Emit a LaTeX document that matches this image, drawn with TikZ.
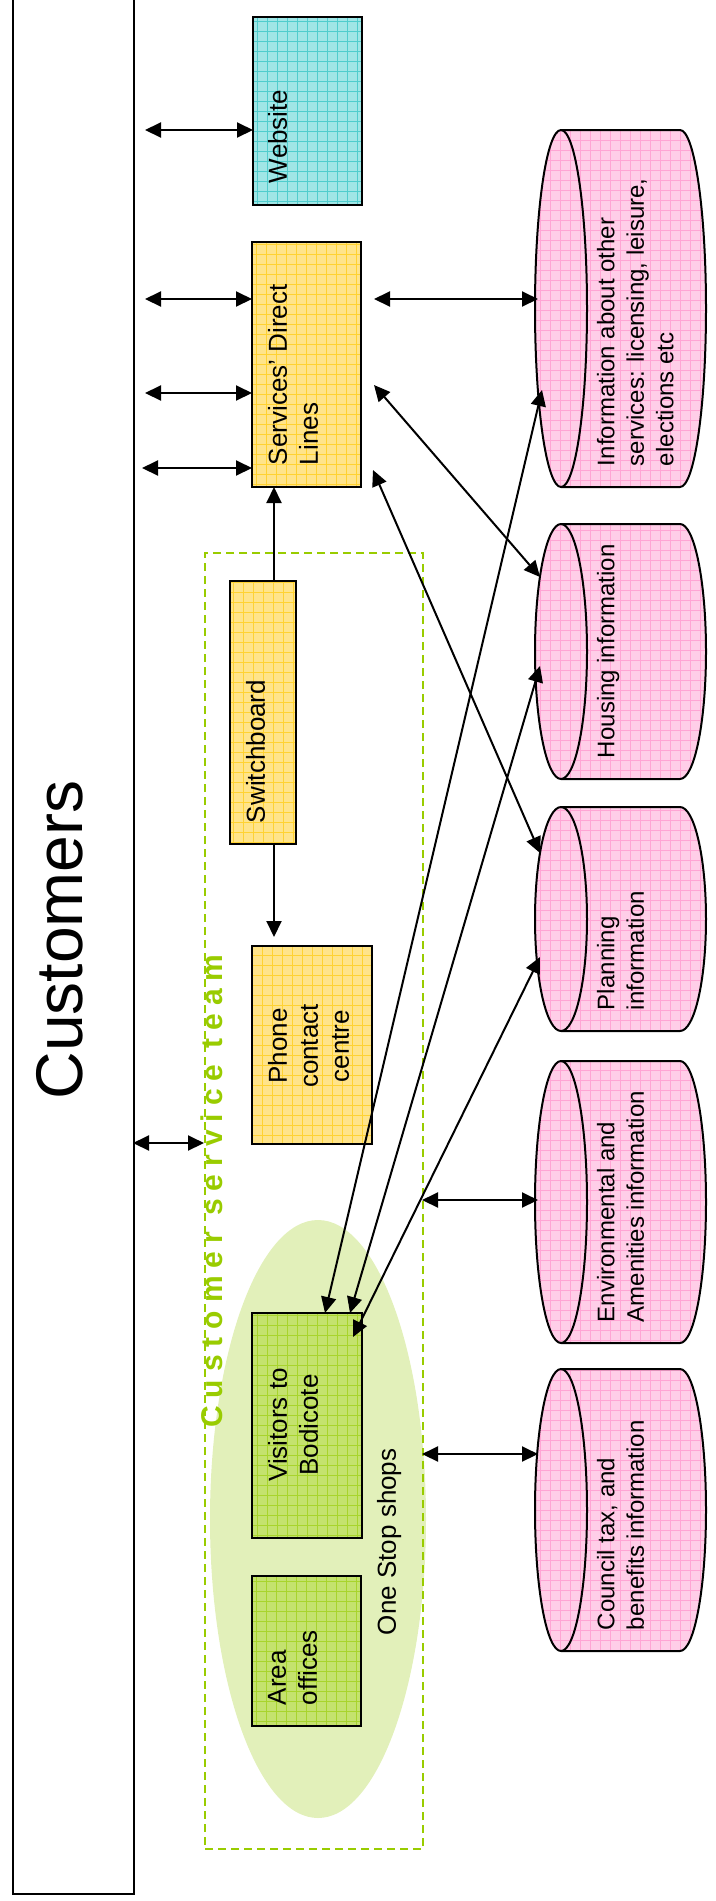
\documentclass[tikz,border=0pt]{standalone}
\usepackage{fontspec}
\setmainfont{Liberation Sans}
\usetikzlibrary{arrows.meta,shapes.geometric}

\definecolor{webfill}{RGB}{160,230,230}
\definecolor{webgrid}{RGB}{80,205,205}
\definecolor{yelfill}{RGB}{255,228,138}
\definecolor{yelgrid}{RGB}{255,210,50}
\definecolor{pinkfill}{RGB}{255,206,232}
\definecolor{pinkgrid}{RGB}{255,165,212}
\definecolor{grnfill}{RGB}{196,226,110}
\definecolor{grngrid}{RGB}{168,212,45}
\definecolor{ovalfill}{RGB}{226,240,186}
\definecolor{teamgreen}{RGB}{153,204,0}

% tracking between the letters of the team caption
\newcommand\tsp{\kern8pt}

% information store drawn as a cylinder lying on its side
% #1 label name, #2 top, #3 bottom, #4 label text
\newcommand\datadrum[4]{%
  \pgfmathsetmacro\dry{(#3-#2)/2}%
  \path[gridded={pinkfill}{pinkgrid}, draw=black, line width=2pt]
    (561,-#2) -- (680,-#2)
    arc[start angle=90,end angle=-90,x radius=26,y radius=\dry]
    -- (561,-#3)
    arc[start angle=270,end angle=90,x radius=26,y radius=\dry] -- cycle;
  \draw[line width=2pt] (561,-#2)
    arc[start angle=90,end angle=-90,x radius=26,y radius=\dry];
  \node[dbtxt] (#1) at (597,{-(#3-21)}) {#4};
}

\begin{document}
\begin{tikzpicture}[x=1pt,y=1pt,
  box/.style={rectangle, draw=black, line width=2pt, inner sep=0pt,
    outer sep=0pt, anchor=north west},
  gridded/.style 2 args={fill=#1, path picture={
    \draw[draw=#2, line width=0.55pt, step=10pt]
      (path picture bounding box.south west) grid
      (path picture bounding box.north east);}},
  txt/.style={inner sep=0pt, outer sep=0pt, rotate=90,
    font=\fontsize{26}{31}\selectfont},
  dbtxt/.style={inner sep=0pt, outer sep=0pt, rotate=90, anchor=north west,
    align=left, font=\fontsize{24}{29.5}\selectfont},
  link/.style={line width=2pt,
    {Triangle[length=16pt,width=15pt]}-{Triangle[length=16pt,width=15pt]}},
  feed/.style={line width=2pt, -{Triangle[length=16pt,width=15pt]}},
]
\useasboundingbox (0,0) rectangle (715,-1901);

% customers column
\node[draw=black, line width=2pt, inner sep=0pt, anchor=south west,
  minimum width=121pt, minimum height=1910pt] (cust) at (12,-1895) {};
\node[rotate=90, inner sep=0pt, font=\fontsize{66}{78}\selectfont]
  (custlbl) at (60,-940) {Customers};

% one stop shops oval and customer service team frame
\node[ellipse, fill=ovalfill, inner sep=0pt, minimum width=216pt,
  minimum height=598pt] (oss) at (318,-1519) {};
\node[rectangle, draw=teamgreen, line width=2pt, dash pattern=on 8pt off 5pt,
  inner sep=0pt, anchor=north west, minimum width=218pt,
  minimum height=1296pt] (team) at (204,-552) {};
\node[rotate=90, anchor=north west, inner sep=0pt, text=teamgreen,
  font=\bfseries\fontsize{30}{34}\selectfont]
  (teamlbl) at (201,-1428)
  {C\tsp u\tsp s\tsp t\tsp o\tsp m\tsp e\tsp r\tsp\space\tsp s\tsp e\tsp r\tsp v\tsp i\tsp c\tsp e\tsp\space\tsp t\tsp e\tsp a\tsp m};
\node[txt, anchor=north west] (osslbl) at (377,-1635) {One Stop shops};

% channel boxes
\node[box, gridded={webfill}{webgrid}, minimum width=109pt,
  minimum height=188pt] (web) at (253,-17) {};
\node[txt, anchor=north west] (weblbl) at (268,-183) {Website};

\node[box, gridded={yelfill}{yelgrid}, minimum width=109pt,
  minimum height=245pt] (svc) at (252,-242) {};
\node[txt, anchor=north west, align=left] (svclbl) at (268,-465)
  {Services’ Direct\\Lines};

\node[box, gridded={yelfill}{yelgrid}, minimum width=66pt,
  minimum height=263pt] (sw) at (230,-581) {};
\node[txt, anchor=north west] (swlbl) at (246,-823) {Switchboard};

\node[box, gridded={yelfill}{yelgrid}, minimum width=120pt,
  minimum height=198pt] (ph) at (252,-946) {};
\node[txt, anchor=north, align=center] (phlbl) at (268,-1046)
  {Phone\\contact\\centre};

\node[box, gridded={grnfill}{grngrid}, minimum width=110pt,
  minimum height=225pt] (vis) at (252,-1313) {};
\node[txt, anchor=north, align=center] (vislbl) at (268,-1425)
  {Visitors to\\Bodicote};

\node[box, gridded={grnfill}{grngrid}, minimum width=109pt,
  minimum height=150pt] (area) at (252,-1576) {};
\node[txt, anchor=north west, align=left] (arealbl) at (268,-1705)
  {Area\\offices};

% information stores
\datadrum{info}{130}{487}{Information about other\\services: licensing, leisure,\\elections etc}
\datadrum{hous}{524}{779}{Housing information}
\datadrum{plan}{807}{1031}{Planning\\information}
\datadrum{env}{1061}{1343}{Environmental and\\Amenities information}
\datadrum{ctax}{1369}{1651}{Council tax, and\\benefits information}

% connector end points
\coordinate (cu-a) at (145,-130);  \coordinate (web-a) at (253,-130);
\coordinate (cu-b) at (145,-299);  \coordinate (svc-b) at (252,-299);
\coordinate (cu-c) at (145,-393);  \coordinate (svc-c) at (252,-393);
\coordinate (cu-d) at (142,-468);  \coordinate (svc-d) at (252,-468);
\coordinate (cu-e) at (133,-1143); \coordinate (team-e) at (204,-1143);
\coordinate (svc-f) at (374,-299); \coordinate (info-f) at (538,-299);
\coordinate (svc-g) at (374,-385); \coordinate (hous-g) at (540,-577);
\coordinate (svc-h) at (373,-470); \coordinate (plan-h) at (540,-853);
\coordinate (vis-i) at (325,-1313); \coordinate (info-i) at (542,-390);
\coordinate (vis-j) at (350,-1313); \coordinate (hous-j) at (540,-666);
\coordinate (vis-k) at (353,-1337); \coordinate (plan-k) at (540,-957);
\coordinate (team-l) at (422,-1200); \coordinate (env-l) at (538,-1200);
\coordinate (team-m) at (422,-1454); \coordinate (ctax-m) at (538,-1454);
\coordinate (sw-up) at (274,-581); \coordinate (svc-up) at (274,-487);
\coordinate (sw-dn) at (274,-844); \coordinate (ph-up) at (274,-937);

% connectors
\draw[link] (cu-a) -- (web-a);
\draw[link] (cu-b) -- (svc-b);
\draw[link] (cu-c) -- (svc-c);
\draw[link] (cu-d) -- (svc-d);
\draw[link] (cu-e) -- (team-e);
\draw[link] (svc-f) -- (info-f);
\draw[link] (svc-g) -- (hous-g);
\draw[link] (svc-h) -- (plan-h);
\draw[link] (vis-i) -- (info-i);
\draw[link] (vis-j) -- (hous-j);
\draw[link] (vis-k) -- (plan-k);
\draw[link] (team-l) -- (env-l);
\draw[link] (team-m) -- (ctax-m);
\draw[feed] (sw-up) -- (svc-up);
\draw[feed] (sw-dn) -- (ph-up);
\end{tikzpicture}
\end{document}
